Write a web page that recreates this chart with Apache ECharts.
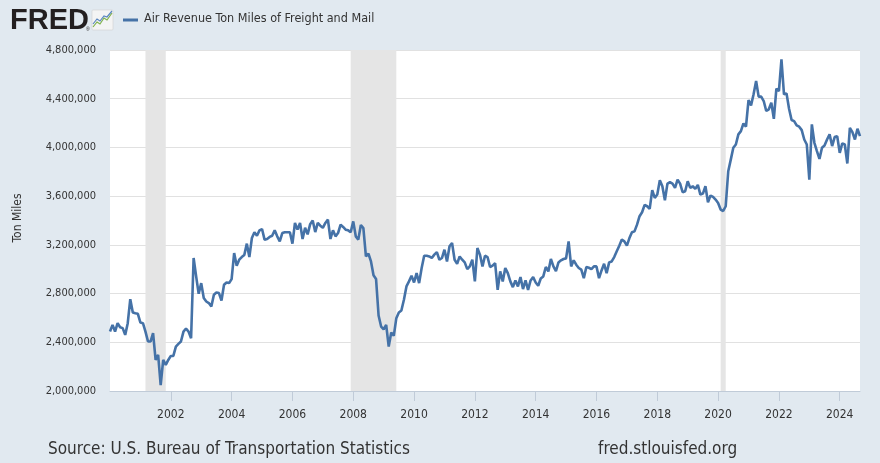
<!DOCTYPE html>
<html>
<head>
<meta charset="utf-8">
<script src="https://cdn.jsdelivr.net/npm/echarts@6/dist/echarts.min.js"></script>
<style>
html,body{margin:0;padding:0;background:#e1e9f0;}
#c{width:880px;height:463px;}
</style>
</head>
<body>
<div id="c"></div>
<script>
// Monthly data, Jan 2000 .. Sep 2024 (ton miles)
const startYear = 2000;
const values = [
2488000,2543000,2488000,2557000,2524000,2516000,2461000,2557000,2754000,2645000,2639000,2634000,
2562000,2557000,2488000,2406000,2406000,2475000,2255000,2296000,2049000,2255000,2214000,2255000,
2288000,2288000,2365000,2387000,2406000,2488000,2513000,2488000,2433000,3092000,2941000,2798000,
2886000,2763000,2735000,2722000,2694000,2790000,2809000,2804000,2743000,2872000,2891000,2886000,
2919000,3133000,3029000,3078000,3100000,3116000,3210000,3100000,3256000,3303000,3275000,3319000,
3330000,3243000,3248000,3265000,3275000,3319000,3270000,3229000,3297000,3303000,3303000,3303000,
3210000,3380000,3325000,3380000,3248000,3340000,3286000,3370000,3400000,3305000,3380000,3357000,
3340000,3380000,3407000,3248000,3320000,3270000,3297000,3366000,3347000,3325000,3319000,3303000,
3393000,3270000,3243000,3363000,3338000,3105000,3127000,3064000,2950000,2920000,2620000,2529000,
2507000,2543000,2365000,2480000,2453000,2598000,2645000,2661000,2749000,2859000,2900000,2946000,
2891000,2968000,2886000,3010000,3111000,3111000,3105000,3092000,3120000,3140000,3078000,3092000,
3160000,3064000,3188000,3215000,3078000,3045000,3105000,3078000,3056000,3001000,3023000,3078000,
2900000,3174000,3120000,3023000,3111000,3100000,3018000,3029000,3050000,2831000,2982000,2900000,
3010000,2968000,2900000,2853000,2908000,2859000,2935000,2837000,2908000,2831000,2908000,2935000,
2891000,2864000,2924000,2941000,3018000,2982000,3084000,3023000,2985000,3056000,3073000,3084000,
3089000,3229000,3023000,3073000,3037000,3010000,2996000,2927000,3018000,3012000,3001000,3023000,
3023000,2927000,2990000,3045000,2968000,3056000,3064000,3100000,3147000,3193000,3243000,3229000,
3193000,3256000,3303000,3311000,3366000,3435000,3468000,3528000,3517000,3495000,3649000,3586000,
3613000,3731000,3681000,3566000,3703000,3714000,3703000,3668000,3736000,3703000,3632000,3640000,
3722000,3668000,3681000,3660000,3692000,3613000,3621000,3681000,3550000,3605000,3594000,3572000,
3544000,3490000,3478000,3517000,3805000,3900000,3997000,4024000,4107000,4134000,4197000,4170000,
4389000,4345000,4436000,4546000,4417000,4417000,4381000,4299000,4313000,4367000,4235000,4482000,
4463000,4724000,4436000,4444000,4318000,4225000,4216000,4181000,4170000,4142000,4065000,4024000,
3736000,4189000,4038000,3970000,3906000,3997000,4016000,4065000,4107000,4011000,4085000,4093000,
3956000,4033000,4024000,3868000,4161000,4126000,4065000,4153000,4093000
];
const xTickYears = [2002,2004,2006,2008,2010,2012,2014,2016,2018,2020,2022,2024];
const yMin = 2000000, yMax = 4800000, yStep = 400000;
// Recessions as [start, end] in fractional years (month start)
const recessions = [[2001 + 2/12, 2001 + 10/12], [2007 + 11/12, 2009 + 5/12], [2020 + 1/12, 2020 + 3/12]];
const seriesName = 'Air Revenue Ton Miles of Freight and Mail';

const NARROW = "'Liberation Sans Narrow','DejaVu Sans Condensed',sans-serif";
const data = values.map((v, i) => [startYear + i / 12, v]);
const chart = echarts.init(document.getElementById('c'), null, {renderer: 'canvas'});
chart.setOption({
  backgroundColor: '#e1e9f0',
  animation: false,
  grid: {left: 110, right: 20, top: 50, bottom: 72, show: true, backgroundColor: '#ffffff', borderWidth: 0},
  xAxis: {
    type: 'value', min: startYear, max: startYear + (values.length - 1) / 12,
    axisLine: {show: true, lineStyle: {color: '#c0cbd8', width: 1}},
    axisTick: {show: true, length: 10, customValues: xTickYears, lineStyle: {color: '#c0cbd8'}},
    axisLabel: {customValues: xTickYears, color: '#333', fontSize: 12, fontFamily: NARROW, margin: 18,
      formatter: v => String(v)},
    splitLine: {show: false}
  },
  yAxis: {
    type: 'value', min: yMin, max: yMax, interval: yStep,
    axisLine: {show: false}, axisTick: {show: false},
    axisLabel: {color: '#333', fontSize: 11, fontFamily: NARROW, margin: 14, padding: [0, 0, 9, 0],
      formatter: v => v.toLocaleString('en-US')},
    splitLine: {lineStyle: {color: '#e1e1e1', width: 1}}
  },
  series: [{
    type: 'line', name: seriesName, data: data, showSymbol: false, symbol: 'none',
    lineStyle: {color: '#4572a7', width: 2.6}, z: 3,
    markArea: {silent: true, itemStyle: {color: '#e5e5e5'},
      data: recessions.map(r => [{xAxis: r[0]}, {xAxis: r[1]}])}
  }],
  graphic: [
    {type: 'text', left: 10, top: 6, style: {text: 'FRED', font: "bold 29px 'Liberation Sans',Arial,sans-serif", fill: '#231f20'}},
    {type: 'text', left: 86, top: 27, style: {text: '\u00ae', font: "5px sans-serif", fill: '#231f20'}},
    {type: 'rect', shape: {x: 92, y: 10, width: 21, height: 20, r: 1}, style: {fill: '#f4f4f4', stroke: '#d0d0d0', lineWidth: 0.6}},
    {type: 'polyline', shape: {points: [[93, 27], [97, 22], [100, 24], [104, 18], [107, 20], [112, 13]]}, style: {stroke: '#7fb24a', lineWidth: 1.2, fill: null}},
    {type: 'polyline', shape: {points: [[93, 24], [97, 19], [100, 21], [104, 16], [107, 17], [112, 11]]}, style: {stroke: '#5b87c0', lineWidth: 1.2, fill: null}},
    {type: 'line', shape: {x1: 123, y1: 20, x2: 138, y2: 20}, style: {stroke: '#4572a7', lineWidth: 3}},
    {type: 'text', left: 144, top: 12, style: {text: seriesName, font: "12.5px " + NARROW, fill: '#333'}},
    {type: 'text', x: 18, y: 218, rotation: Math.PI / 2, style: {text: 'Ton Miles', font: "12px " + NARROW, fill: '#333', align: 'center', verticalAlign: 'middle'}},
    {type: 'text', left: 48, top: 441, style: {text: 'Source: U.S. Bureau of Transportation Statistics', font: "17px " + NARROW, fill: '#333'}},
    {type: 'text', left: 598, top: 441, style: {text: 'fred.stlouisfed.org', font: "17px " + NARROW, fill: '#333'}}
  ]
});
</script>
</body>
</html>
